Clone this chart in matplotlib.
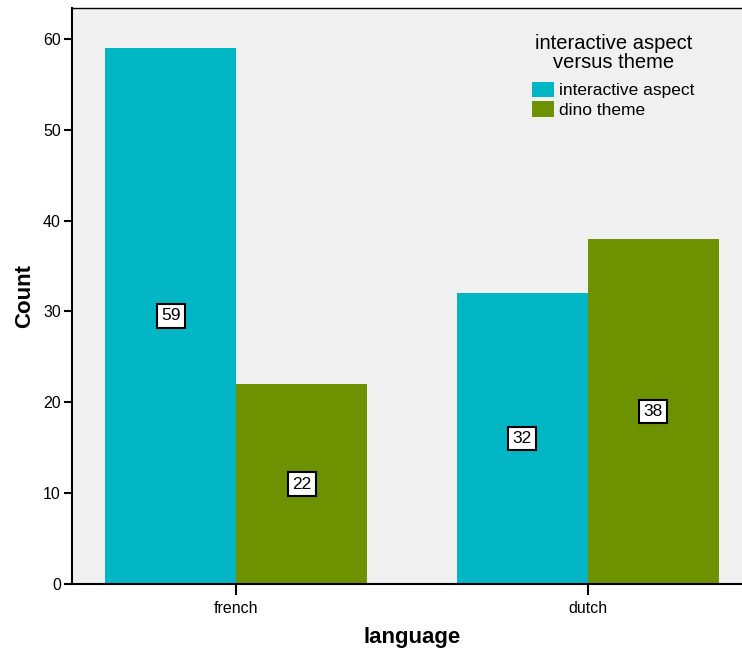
import matplotlib.pyplot as plt
import numpy as np

plt.rcParams['font.family'] = ['Liberation Sans', 'DejaVu Sans']

languages = ['french', 'dutch']
series = ['interactive aspect', 'dino theme']
interactive = [59, 32]
dino = [22, 38]
colors = ['#00b5c4', '#6e9100']

fig = plt.figure(figsize=(7.42, 6.5), dpi=100)
ax = fig.add_axes([72 / 742, 66 / 650, 680 / 742, 576 / 650])
ax.set_facecolor('#f0f0f0')

x = np.arange(len(languages))
w = 0.373
for vals, off, col, name in [(interactive, -w / 2, colors[0], series[0]),
                             (dino, w / 2, colors[1], series[1])]:
    bars = ax.bar(x + off, vals, width=w, color=col, label=name, zorder=2)
    for b, v in zip(bars, vals):
        ax.text(b.get_x() + b.get_width() / 2, v / 2, str(v), ha='center', va='center',
                fontsize=12.5, zorder=3,
                bbox=dict(boxstyle='square,pad=0.25', fc='white', ec='black', lw=1.5))

ax.set_xlim(-0.467, 1.467)
ax.set_ylim(0, 63.4)
ax.set_yticks(range(0, 61, 10))
ax.set_xticks(x)
ax.set_xticklabels(languages)
ax.tick_params(axis='y', length=6, width=1.5, labelsize=11.5, pad=2)
ax.tick_params(axis='x', length=8, width=1.5, labelsize=11.5, pad=4)
ax.spines['right'].set_visible(False)
ax.spines['left'].set_linewidth(1.5)
ax.spines['bottom'].set_linewidth(1.5)
ax.spines['top'].set_linewidth(1.0)

ax.set_ylabel('Count', fontsize=16, fontweight='bold', labelpad=6)
ax.set_xlabel('language', fontsize=16, fontweight='bold', labelpad=8)

leg = ax.legend(title='interactive aspect\nversus theme', loc='upper center',
                bbox_to_anchor=(0.796, 0.982), frameon=False, fontsize=12.5,
                title_fontsize=14.5, handlelength=1.3, handleheight=1.0,
                handletextpad=0.3, labelspacing=0.15, alignment='center')
leg.get_title().set_multialignment('center')
leg.get_title().set_linespacing(1.0)
leg._legend_box.sep = 7

fig.savefig('out.png', dpi=100)
